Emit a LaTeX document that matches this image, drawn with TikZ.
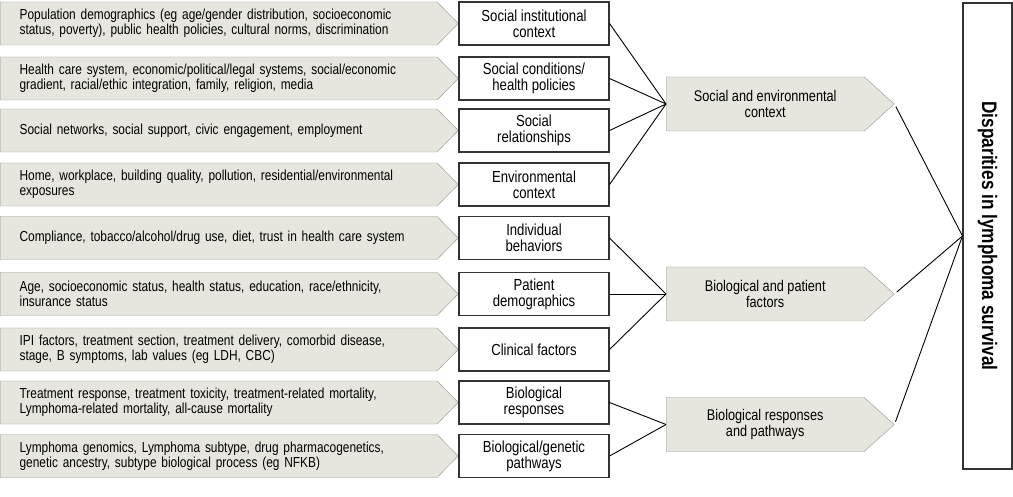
\documentclass[tikz,border=0pt]{standalone}
\usepackage{fontspec}
\setmainfont[FakeStretch=0.82]{Liberation Sans}
\usetikzlibrary{shapes.symbols}

\definecolor{shade}{RGB}{231,230,222}
\definecolor{rim}{RGB}{150,150,146}

\begin{document}
\begin{tikzpicture}[x=1pt,y=-1pt,
  cause/.style={signal,signal to=east,signal pointer angle=91,draw=rim,fill=shade,
    minimum width=458pt,minimum height=43pt,inner xsep=0pt,text width=398pt,align=left,
    anchor=west,font=\fontsize{14.5}{15}\selectfont},
  aspect/.style={draw=black!80,line width=1.1pt,minimum width=150pt,minimum height=43pt,
    inner xsep=0pt,align=center,font=\fontsize{16}{16}\selectfont},
  pillar/.style={signal,signal to=east,signal pointer angle=84,draw=rim,fill=shade,
    minimum width=228pt,minimum height=54pt,align=center,anchor=west,
    font=\fontsize{15.5}{15.5}\selectfont},
  link/.style={line width=0.9pt,black}]
  \useasboundingbox (0,0) rectangle (1013,497);

  \node[cause] (c1) at (0,23.5) {Population demographics (eg age/gender distribution, socioeconomic\\status, poverty), public health policies, cultural norms, discrimination};
  \node[cause] (c2) at (0,78.5) {Health care system, economic/political/legal systems, social/economic\\gradient, racial/ethic integration, family, religion, media};
  \node[cause] (c3) at (0,130.5) {Social networks, social support, civic engagement, employment};
  \node[cause] (c4) at (0,184.5) {Home, workplace, building quality, pollution, residential/environmental\\exposures};
  \node[cause] (c5) at (0,238) {Compliance, tobacco/alcohol/drug use, diet, trust in health care system};
  \node[cause] (c6) at (0,294) {Age, socioeconomic status, health status, education, race/ethnicity,\\insurance status};
  \node[cause] (c7) at (0,349.5) {IPI factors, treatment section, treatment delivery, comorbid disease,\\stage, B symptoms, lab values (eg LDH, CBC)};
  \node[cause] (c8) at (0,402.5) {Treatment response, treatment toxicity, treatment-related mortality,\\Lymphoma-related mortality, all-cause mortality};
  \node[cause] (c9) at (0,456) {Lymphoma genomics, Lymphoma subtype, drug pharmacogenetics,\\genetic ancestry, subtype biological process (eg NFKB)};

  \node[aspect] (d1) at (534,23.5) {Social institutional\\context};
  \node[aspect] (d2) at (534,78.5) {Social conditions/\\health policies};
  \node[aspect] (d3) at (534,130.5) {Social\\relationships};
  \node[aspect] (d4) at (534,184.5) {Environmental\\context};
  \node[aspect] (d5) at (534,238) {Individual\\behaviors};
  \node[aspect] (d6) at (534,294) {Patient\\demographics};
  \node[aspect] (d7) at (534,349.5) {Clinical factors};
  \node[aspect] (d8) at (534,402.5) {Biological\\responses};
  \node[aspect] (d9) at (534,456) {Biological/genetic\\pathways};

  \node[pillar] (g1) at (666,104) {Social and environmental\\context};
  \node[pillar] (g2) at (666,294) {Biological and patient\\factors};
  \node[pillar] (g3) at (666,424.5) {Biological responses\\and pathways};

  \node[draw=black!80,line width=1.1pt,rotate=-90,minimum width=466pt,minimum height=49pt,
    font=\bfseries\fontsize{21}{24}\selectfont] (out) at (987.5,236) {Disparities in lymphoma survival};

  \draw[link] (d1.east) -- (g1.west);
  \draw[link] (d2.east) -- (g1.west);
  \draw[link] (d3.east) -- (g1.west);
  \draw[link] (d4.east) -- (g1.west);
  \draw[link] (d5.east) -- (g2.west);
  \draw[link] (d6.east) -- (g2.west);
  \draw[link] (d7.east) -- (g2.west);
  \draw[link] (d8.east) -- (g3.west);
  \draw[link] (d9.east) -- (g3.west);
  \draw[link,shorten <=3pt] (g1.east) -- (out.south);
  \draw[link,shorten <=3pt] (g2.east) -- (out.south);
  \draw[link,shorten <=3pt] (g3.east) -- (out.south);
\end{tikzpicture}
\end{document}
